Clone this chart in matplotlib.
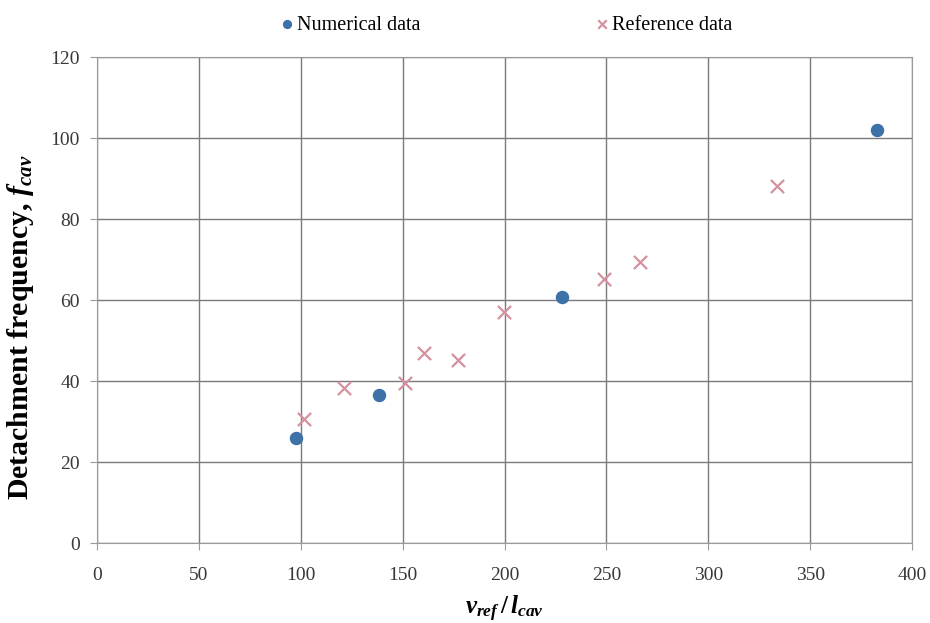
import matplotlib
matplotlib.use("Agg")
import matplotlib.pyplot as plt

plt.rcParams['font.family'] = ['Liberation Serif', 'DejaVu Serif']
plt.rcParams['mathtext.fontset'] = 'custom'
plt.rcParams['mathtext.rm'] = 'Liberation Serif:bold'
plt.rcParams['mathtext.it'] = 'Liberation Serif:italic:bold'
plt.rcParams['mathtext.bf'] = 'Liberation Serif:bold'

# numerical data
num_x = [97.7, 138.4, 228.2, 382.8]
num_y = [26.0, 36.7, 60.7, 102.0]

# reference data
ref_x = [101.6, 121.2, 151.2, 160.5, 177.2, 199.8, 248.8, 266.5, 333.7]
ref_y = [30.6, 38.3, 39.5, 46.9, 45.2, 57.0, 65.2, 69.4, 88.1]

xticks = [0, 50, 100, 150, 200, 250, 300, 350, 400]
yticks = [0, 20, 40, 60, 80, 100, 120]

fig = plt.figure(figsize=(9.3, 6.23), dpi=100)
ax = fig.add_axes([0.104, 0.128, 0.877, 0.78])

ax.scatter(num_x, num_y, s=75, color='#3d72a8', marker='o', zorder=3,
           label='Numerical data')
ax.scatter(ref_x, ref_y, s=90, color='#d4919e', marker='x', linewidths=1.6,
           zorder=3, label='Reference data')

ax.set_xlim(0, 400)
ax.set_ylim(0, 120)
ax.set_xticks(xticks)
ax.set_yticks(yticks)
ax.grid(True, color='#7a7a7a', linewidth=1.0)
ax.set_axisbelow(True)
for s in ax.spines.values():
    s.set_color('#9a9a9a')
ax.tick_params(colors='#9a9a9a', labelcolor='#383838', labelsize=14, length=5)
ax.tick_params(axis='x', pad=12)
ax.tick_params(axis='y', pad=7)

ax.set_xlabel(r'$v_{ref}\,/\,l_{cav}$', fontsize=18)
ax.xaxis.set_label_coords(0.5, -0.105)
ax.set_ylabel(r'Detachment frequency, $f_{cav}$', fontsize=21.5,
              fontweight='bold')
ax.yaxis.set_label_coords(-0.074, 0.444)

ax.legend(loc='center', bbox_to_anchor=(0.545, 1 - 25 / 623),
          bbox_transform=fig.transFigure, ncol=2, frameon=False,
          fontsize=14.5, columnspacing=8.7, handlelength=0.6,
          handletextpad=0.2, markerscale=0.65)

fig.savefig('out.png', dpi=100)
